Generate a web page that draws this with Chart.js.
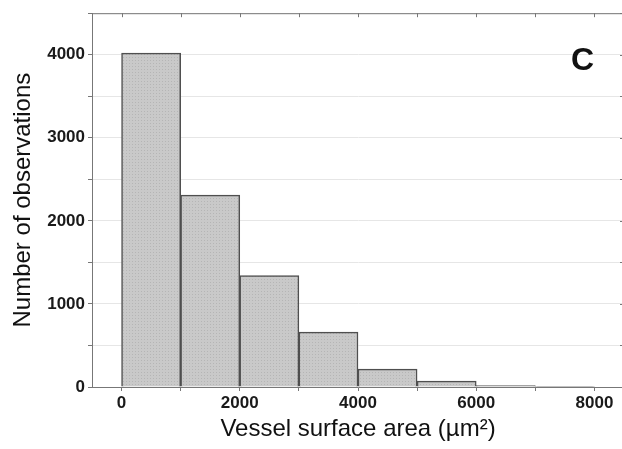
<!DOCTYPE html>
<html>
<head>
<meta charset="utf-8">
<script src="https://cdn.jsdelivr.net/npm/chart.js@4/dist/chart.umd.min.js"></script>
<style>
  html, body { margin: 0; padding: 0; background: #fff; overflow: hidden; }
  #wrap { width: 624px; height: 449px; position: relative; }
</style>
</head>
<body>
<div id="wrap"><canvas id="hist"></canvas></div>
<script>
// Histogram bins (lower edge, µm²) and counts
const binStart = [0, 1000, 2000, 3000, 4000, 5000, 6000, 7000];
const binWidth = 1000;
const counts = [4020, 2310, 1340, 660, 215, 70, 18, 4];
const xTickValues = [0, 1000, 2000, 3000, 4000, 5000, 6000, 7000, 8000];
const xTickLabels = [0, 2000, 4000, 6000, 8000];
const yTickLabels = [0, 1000, 2000, 3000, 4000];
const panelLetter = 'C';

// Fine dotted gray like the printed bars
function stipple() {
    const c = document.createElement('canvas');
    c.width = 3; c.height = 3;
    const g = c.getContext('2d');
    g.fillStyle = '#c9c9c9';
    g.fillRect(0, 0, 3, 3);
    g.fillStyle = '#b5b5b5';
    g.fillRect(0, 0, 1, 1);
    return g.createPattern(c, 'repeat');
}

// Top/right frame with inward ticks, plus the panel letter
const frame = {
    id: 'frame',
    afterDraw(chart) {
        const { ctx, chartArea: a, scales } = chart;
        ctx.save();
        ctx.strokeStyle = '#777';
        ctx.lineWidth = 1;
        ctx.beginPath();
        ctx.moveTo(a.left, a.top + 0.5);
        ctx.lineTo(a.right, a.top + 0.5);
        ctx.moveTo(a.right - 0.5, a.top);
        ctx.lineTo(a.right - 0.5, a.bottom);
        scales.x.ticks.forEach(t => {
            const x = Math.round(scales.x.getPixelForValue(t.value)) + 0.5;
            ctx.moveTo(x, a.top);
            ctx.lineTo(x, a.top + 4);
        });
        scales.y.ticks.forEach(t => {
            const y = Math.round(scales.y.getPixelForValue(t.value)) + 0.5;
            ctx.moveTo(a.right, y);
            ctx.lineTo(a.right - 4, y);
        });
        ctx.stroke();

        ctx.fillStyle = '#111';
        ctx.font = 'bold 32px "Liberation Sans", Arial, sans-serif';
        ctx.textAlign = 'center';
        ctx.textBaseline = 'middle';
        ctx.fillText(panelLetter, scales.x.getPixelForValue(7800), scales.y.getPixelForValue(3920));
        ctx.restore();
    }
};

const tickFont = { family: '"Liberation Sans", Arial, sans-serif', size: 17, weight: 'bold' };
const titleFont = { family: '"Liberation Sans", Arial, sans-serif', size: 24 };

new Chart(document.getElementById('hist'), {
    type: 'bar',
    data: {
        datasets: [{
            data: binStart.map((s, i) => ({ x: s + binWidth / 2, y: counts[i] })),
            backgroundColor: stipple(),
            borderColor: '#4f4f4f',
            borderWidth: 1.5,
            borderSkipped: 'start',
            barPercentage: 1,
            categoryPercentage: 1
        }]
    },
    options: {
        responsive: true,
        maintainAspectRatio: false,
        animation: false,
        layout: { padding: { top: 12, right: 0, left: 0, bottom: 0 } },
        plugins: { legend: { display: false }, tooltip: { enabled: false } },
        scales: {
            x: {
                type: 'linear',
                offset: false,
                min: -500,
                max: 8500,
                afterFit(s) { s.height = 62; },
                afterBuildTicks(s) { s.ticks = xTickValues.map(v => ({ value: v })); },
                ticks: {
                    autoSkip: false,
                    maxRotation: 0,
                    padding: 2,
                    color: '#1a1a1a',
                    font: tickFont,
                    callback: v => xTickLabels.includes(v) ? String(v) : ''
                },
                grid: { drawOnChartArea: false, tickLength: 4, color: '#777', offset: false },
                border: { color: '#777', width: 1 },
                title: {
                    display: true,
                    text: 'Vessel surface area (µm²)',
                    color: '#111',
                    font: titleFont,
                    padding: { top: 0, bottom: 5 }
                }
            },
            y: {
                min: 0,
                max: 4500,
                afterFit(s) { s.width = 92; },
                ticks: {
                    stepSize: 500,
                    padding: 3,
                    color: '#1a1a1a',
                    font: tickFont,
                    callback: v => yTickLabels.includes(v) ? String(v) : ''
                },
                grid: { color: '#e6e6e6', tickLength: 4, tickColor: '#777' },
                border: { color: '#777', width: 1 },
                title: {
                    display: true,
                    text: 'Number of observations',
                    color: '#111',
                    font: titleFont,
                    padding: { top: 9, bottom: 0 }
                }
            }
        }
    },
    plugins: [frame]
});
</script>
</body>
</html>
